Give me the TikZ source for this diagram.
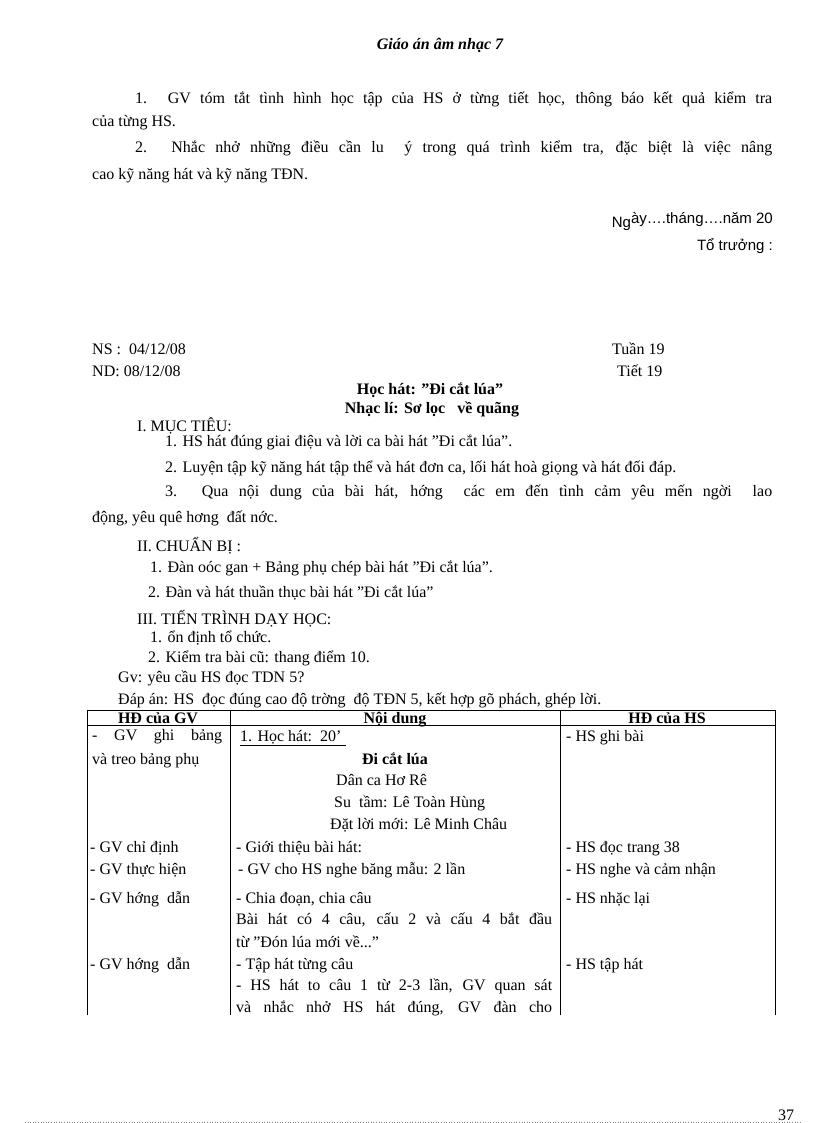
\documentclass[tikz,border=0pt]{standalone}
\usepackage{fontspec}
\setmainfont{Liberation Serif}
\newfontfamily\arialf{Liberation Sans}
\newcommand{\jl}[2]{\parbox{#1pt}{\parfillskip=0pt\relax #2}}
\begin{document}
\begin{tikzpicture}[x=1pt,y=-1pt,
  tx/.style={anchor=base west,inner sep=0pt,font=\fontsize{16}{18}\selectfont},
  tc/.style={anchor=base,inner sep=0pt,font=\fontsize{16}{18}\selectfont},
  tr/.style={anchor=base east,inner sep=0pt,font=\fontsize{16}{18}\selectfont},
  rule/.style={line width=0.8pt}]
\useasboundingbox[fill=white] (0,0) rectangle (816,1123);
\node[tc,font=\fontsize{16}{18}\selectfont\bfseries\itshape] (h) at (440,50) {Giáo án âm nhạc 7};
\node[tx] (p1) at (135,104) {\jl{637}{1. GV tóm tắt tình hình học tập của HS ở từng tiết học, thông báo kết quả kiểm tra}};
\node[tx] (p1b) at (92,127) {của từng HS.};
\node[tx] (p2) at (135,153) {\jl{637}{2. Nhắc nhở những điều cần lu\ \ ý trong quá trình kiểm tra, đặc biệt là việc nâng}};
\node[tx] (p2b) at (92,180) {cao kỹ năng hát và kỹ năng TĐN.};
\node[tr,font=\arialf\fontsize{15}{18}\selectfont] (ng) at (773,224) {\raisebox{-4pt}{Ng}ày….tháng….năm 20};
\node[tr,font=\arialf\fontsize{15}{18}\selectfont] (tt) at (773,251) {Tổ trưởng :};
\node[tx] (ns) at (92,354) {NS :\ \ 04/12/08};
\node[tx] (tu) at (612,354) {Tuần 19};
\node[tx] (nd) at (92,376) {ND: 08/12/08};
\node[tx] (ti) at (617,376) {Tiết 19};
\node[tc,font=\fontsize{16}{18}\selectfont\bfseries] (t1) at (430,394) {Học hát: "Đi cắt lúa"};
\node[tc,font=\fontsize{16}{18}\selectfont\bfseries] (t2) at (432,413) {Nhạc lí: Sơ lọc\ \ \ về quãng};
\node[tx] (m1) at (137,431) {I. MỤC TIÊU:};
\node[tx] (m2) at (165,446) {1. HS hát đúng giai điệu và lời ca bài hát "Đi cắt lúa".};
\node[tx] (m3) at (165,472) {2. Luyện tập kỹ năng hát tập thể và hát đơn ca, lối hát hoà giọng và hát đối đáp.};
\node[tx] (m4) at (165,497) {\jl{607}{3. Qua nội dung của bài hát, hớng\ \ các em đến tình cảm yêu mến ngời\ \ lao}};
\node[tx] (m5) at (92,522) {động, yêu quê hơng\ \ đất nớc.};
\node[tx] (c1) at (137,551) {II. CHUẨN BỊ :};
\node[tx] (c2) at (150,572) {1. Đàn oóc gan + Bảng phụ chép bài hát "Đi cắt lúa".};
\node[tx] (c3) at (148,597) {2. Đàn và hát thuần thục bài hát "Đi cắt lúa"};
\node[tx] (d1) at (137,624) {III. TIẾN TRÌNH DẠY HỌC:};
\node[tx] (d2) at (150,642) {1. ổn định tổ chức.};
\node[tx] (d3) at (148,662) {2. Kiểm tra bài cũ: thang điểm 10.};
\node[tx] (d4) at (118,682) {Gv: yêu cầu HS đọc TDN 5?};
\node[tx] (d5) at (118,704) {Đáp án: HS\ \ đọc đúng cao độ trờng\ \ độ TĐN 5, kết hợp gõ phách, ghép lời.};
% table
\coordinate (a) at (87,710); \coordinate (b) at (230,710); \coordinate (c) at (560,710); \coordinate (d) at (775,710);
\coordinate (a2) at (87,1015); \coordinate (b2) at (230,1015); \coordinate (c2) at (560,1015); \coordinate (d2) at (775,1015);
\coordinate (h1) at (87,725); \coordinate (h2) at (775,725);
\draw[rule] (a) -- (d); \draw[rule] (h1) -- (h2);
\draw[rule] (a) -- (a2); \draw[rule] (b) -- (b2); \draw[rule] (c) -- (c2); \draw[rule] (d) -- (d2);
\node[tc,font=\fontsize{16}{18}\selectfont\bfseries] (th1) at (158,723) {HĐ của GV};
\node[tc,font=\fontsize{16}{18}\selectfont\bfseries] (th2) at (395,723) {Nội dung};
\node[tc,font=\fontsize{16}{18}\selectfont\bfseries] (th3) at (667,723) {HĐ của HS};
\node[tx] (g1) at (92,741) {\jl{130}{- GV ghi bảng}};
\node[tx] (g2) at (92,764) {và treo bảng phụ};
\node[tx] (g3) at (90,852) {- GV chỉ định};
\node[tx] (g4) at (90,874) {- GV thực hiện};
\node[tx] (g5) at (90,903) {- GV hớng\ \ dẫn};
\node[tx] (g6) at (90,969) {- GV hớng\ \ dẫn};
\node[tx] (n1) at (240,741) {\underline{1. Học hát:\ \ 20'\ }};
\node[tc,font=\fontsize{16}{18}\selectfont\bfseries] (n2) at (395,764) {Đi cắt lúa};
\node[tx] (n3) at (336,785) {Dân ca Hơ Rê};
\node[tx] (n4) at (334,807) {Su\ \ tầm: Lê Toàn Hùng};
\node[tx] (n5) at (330,829) {Đặt lời mới: Lê Minh Châu};
\node[tx] (n6) at (236,852) {- Giới thiệu bài hát:};
\node[tx] (n7) at (238,874) {- GV cho HS nghe băng mẫu: 2 lần};
\node[tx] (n8) at (236,903) {- Chia đoạn, chia câu};
\node[tx] (n9) at (236,924) {\jl{316}{Bài hát có 4 câu, cấu 2 và cấu 4 bắt đầu}};
\node[tx] (n10) at (236,947) {từ "Đón lúa mới về..."};
\node[tx] (n11) at (236,969) {- Tập hát từng câu};
\node[tx] (n12) at (236,991) {\jl{316}{- HS hát to câu 1 từ 2-3 lần, GV quan sát}};
\node[tx] (n13) at (236,1013) {\jl{316}{và nhắc nhở HS hát đúng, GV đàn cho}};
\node[tx] (s1) at (566,741) {- HS ghi bài};
\node[tx] (s2) at (566,852) {- HS đọc trang 38};
\node[tx] (s3) at (566,874) {- HS nghe và cảm nhận};
\node[tx] (s4) at (566,903) {- HS nhặc lại};
\node[tx] (s5) at (566,969) {- HS tập hát};
% footer
\node[tx] (pg) at (778,1120) {37};
\coordinate (f1) at (25,1122); \coordinate (f2) at (800,1122);
\draw[dotted,gray,line width=0.6pt] (f1) -- (f2);
\end{tikzpicture}
\end{document}
